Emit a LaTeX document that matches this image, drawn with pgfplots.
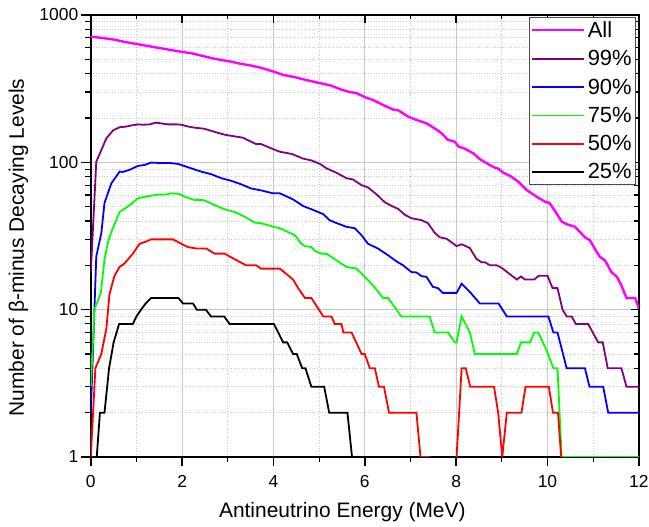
\documentclass[border=0pt]{standalone}
\usepackage{fontspec}
\setmainfont{Liberation Sans}
\usepackage{pgfplots}
\pgfplotsset{compat=1.18}
\definecolor{cAll}{RGB}{255,0,255}
\definecolor{c99}{RGB}{128,0,128}
\definecolor{c90}{RGB}{0,0,255}
\definecolor{c75}{RGB}{0,255,0}
\definecolor{c50}{RGB}{255,0,0}
\definecolor{c25}{RGB}{0,0,0}
\definecolor{gridc}{RGB}{200,200,200}
\pgfplotsset{
  common/.style={
    scale only axis, width=548bp, height=442bp,
    xmin=0, xmax=12, ymin=1, ymax=1000,
    axis line style={line width=1.6bp, black},
    xtick={0,2,...,12}, minor xtick={1,3,...,11},
    ytick={1,10,100,1000},
    major tick length=0pt, minor tick length=0pt, tick style={draw=none},
  },
}
\begin{document}
\begin{tikzpicture}
% grid
\begin{axis}[ymode=log, common, xticklabels={}, yticklabels={},
  axis line style={draw=none},
  grid=both,
  major grid style={line width=0.9bp, gridc},
  minor grid style={line width=0.7bp, gridc, dotted}]
\end{axis}
% labels
\begin{axis}[ymode=log, common, tick align=inside,
  /pgf/number format/assume math mode=true,
  ticklabel style={font=\fontsize{17.5}{20}\selectfont},
  xticklabel style={yshift=-15bp},
  yticklabel style={xshift=-9bp},
  yticklabels={1,10,100,1000},
  xlabel={Antineutrino Energy (MeV)},
  ylabel={Number of β-minus Decaying Levels},
  xlabel style={font=\fontsize{21}{24}\selectfont, at={(axis description cs:0.459,0)}, anchor=base, yshift=-60bp},
  ylabel style={font=\fontsize{21}{24}\selectfont, at={(axis description cs:-0.122,0.474)}, anchor=base},
]
\end{axis}
% tick marks: bottom/left outward, top/right inward
\begin{scope}[x=1bp, y=1bp, black]
\foreach \i in {0,...,6} {
  \draw[line width=1.4bp] ({\i*91.3333},0) -- ++(0,-9);
  \draw[line width=1.4bp] ({\i*91.3333},442) -- ++(0,-8);
}
\foreach \i in {0,...,5} {
  \draw[line width=1.1bp] ({\i*91.3333+45.6667},0) -- ++(0,-5);
  \draw[line width=1.1bp] ({\i*91.3333+45.6667},442) -- ++(0,-4.5);
}
\foreach \d in {0,1,2,3} {
  \draw[line width=1.4bp] (0,{\d*147.3333}) -- ++(-10,0);
  \draw[line width=1.4bp] (548,{\d*147.3333}) -- ++(-8,0);
}
\foreach \d in {0,1,2} {
  \foreach \m in {44.35,70.30,88.70,102.98,114.65,124.51,133.06,140.59} {
    \draw[line width=1.1bp] (0,{\d*147.3333+\m}) -- ++(-6,0);
    \draw[line width=1.1bp] (548,{\d*147.3333+\m}) -- ++(-4.5,0);
  }
}
\end{scope}
% data and legend
\begin{axis}[ymode=log, common, xticklabels={}, yticklabels={},
  legend style={at={(axis description cs:0.995,0.995)}, anchor=north east,
    draw=gray!60!black, line width=0.8bp, fill=white,
    font=\fontsize{22}{26}\selectfont, row sep=6.5bp, inner sep=1.5bp,
    nodes={inner sep=2.5bp}},
  legend cell align=left,
  legend image code/.code={\draw[#1] (0bp,0bp) -- (52bp,0bp);},
]
\addplot[cAll, line width=2.4bp] coordinates {
(0,712) (0.23,700) (0.52,680) (0.74,657) (1.0,636) (1.25,616) (1.54,594) (1.76,578) (1.98,563) (2.20,550) (2.42,530) (2.64,510) (2.86,495) (3.07,482) (3.29,466) (3.51,454) (3.73,438) (3.99,414) (4.21,392) (4.43,381) (4.65,366) (4.87,353) (5.09,341) (5.27,331) (5.49,311) (5.67,300) (5.82,295) (6.00,277) (6.18,265) (6.40,245) (6.62,228) (6.73,226) (6.95,204) (7.13,194) (7.35,184) (7.53,170) (7.68,158) (7.82,142) (7.97,138) (8.05,128) (8.16,125) (8.38,115) (8.52,105) (8.67,98.6) (8.82,92.6) (8.93,90.5) (9.03,85) (9.18,81) (9.36,74) (9.54,65) (9.76,58.5) (9.95,54) (10.05,52.8) (10.2,45) (10.31,39.6) (10.42,38) (10.6,36.6) (10.75,32.7) (10.82,31) (10.93,29.6) (11.08,24.6) (11.15,22.8) (11.26,21.6) (11.40,18) (11.52,16.7) (11.62,14.6) (11.73,12) (11.92,12) (12.0,10.2)
};
\addlegendentry{All}
\addplot[c99, line width=1.8bp] coordinates {
(0,18) (0.12,101) (0.23,121) (0.34,145.5) (0.49,165) (0.63,173) (0.78,175) (0.89,178) (1.03,181) (1.14,180) (1.29,181) (1.43,186) (1.58,183) (1.69,181) (1.87,181) (1.98,180) (2.13,175) (2.27,172) (2.49,169) (2.71,161) (2.93,154) (3.15,150) (3.33,147) (3.51,138) (3.62,133) (3.73,133) (3.99,123) (4.14,118) (4.40,114) (4.65,106) (4.83,103) (5.02,97.5) (5.16,91) (5.38,85) (5.60,78) (5.74,76.6) (5.93,70) (6.07,67.6) (6.26,60.5) (6.44,53.5) (6.62,50) (6.73,48.3) (6.88,44) (7.02,41.8) (7.24,40.5) (7.38,38.7) (7.53,33.3) (7.64,31) (7.79,30.3) (7.97,27.6) (8.01,27) (8.12,27.8) (8.30,26.2) (8.45,22) (8.56,21) (8.63,21) (8.74,20) (8.89,20) (9.00,19.2) (9.33,16) (9.42,16.8) (9.51,16) (9.71,16) (9.81,17) (10.0,17) (10.11,14) (10.22,14) (10.33,10) (10.42,9) (10.53,9) (10.62,8) (10.89,8) (11.11,6) (11.21,6) (11.32,4) (11.62,4) (11.73,3) (12,3)
};
\addlegendentry{99\%}
\addplot[c90, line width=1.8bp] coordinates {
(0,2) (0.12,23) (0.23,33) (0.30,53) (0.45,72) (0.63,86.5) (0.70,86) (0.85,89) (1.03,94.5) (1.18,96) (1.32,99.6) (1.51,99) (1.73,99) (1.91,97.5) (2.02,95) (2.20,91) (2.42,86.5) (2.64,83) (2.86,78) (3.07,75) (3.29,71) (3.51,66.5) (3.73,64.5) (3.99,61.6) (4.14,61.6) (4.43,56) (4.65,50.5) (4.87,47.5) (5.09,44.5) (5.23,40.5) (5.38,38.7) (5.60,36.5) (5.78,35.7) (5.93,32) (6.07,28) (6.29,26) (6.51,23.4) (6.69,21.3) (6.84,20) (7.02,18) (7.13,17.9) (7.24,16.9) (7.35,16.7) (7.49,14.3) (7.60,14) (7.71,13) (8.01,13) (8.12,15) (8.30,13.2) (8.52,11) (8.93,11) (9.11,9) (10.02,9) (10.13,7) (10.22,7) (10.42,4) (10.82,4) (10.92,3) (11.22,3) (11.33,2) (12,2)
};
\addlegendentry{90\%}
\addplot[c75, line width=1.8bp] coordinates {
(0,3) (0.08,10) (0.22,13) (0.30,22) (0.38,29) (0.45,33.7) (0.63,46) (0.81,50) (1.03,57) (1.21,58.5) (1.47,60.5) (1.65,60.5) (1.76,61.6) (1.94,61) (2.05,58.5) (2.27,55.5) (2.46,55.5) (2.71,51.4) (2.93,48) (3.15,46) (3.37,42.7) (3.59,39) (3.73,38.6) (3.99,36.6) (4.14,35.7) (4.32,33.6) (4.47,32) (4.61,28) (4.69,27) (4.83,26.6) (4.91,25) (5.05,24) (5.16,24) (5.60,19.5) (5.82,19) (6.0,16.7) (6.18,14.6) (6.40,12) (6.51,12) (6.80,9) (7.42,9) (7.53,7) (7.82,7) (7.97,6) (8.01,6) (8.12,9) (8.30,7) (8.41,5) (9.33,5) (9.42,6) (9.62,6) (9.71,7) (9.80,7) (9.98,5.3) (10.13,4) (10.22,4) (10.31,1) (12,1)
};
\addlegendentry{75\%}
\addplot[c50, line width=1.8bp] coordinates {
(0,1) (0.10,4) (0.23,5) (0.34,7.4) (0.41,12.8) (0.52,17) (0.63,19.5) (0.74,20.6) (0.92,24) (1.07,28) (1.21,29) (1.32,30) (1.80,30) (2.02,27.6) (2.13,26.6) (2.31,26) (2.53,26) (2.71,24) (2.93,24) (3.15,22) (3.40,20) (3.62,20) (3.73,19) (4.14,19) (4.43,16) (4.54,14) (4.69,12) (4.83,12) (5.09,9) (5.27,9) (5.34,8) (5.49,8) (5.53,7) (5.71,7) (5.93,5) (6.0,5) (6.11,4) (6.22,4) (6.31,3) (6.42,3) (6.53,2) (7.13,2) (7.22,1) (7.43,1)
};
\addlegendentry{50\%}
\addplot[c50, line width=1.8bp, forget plot] coordinates {
(8.01,1) (8.12,4) (8.21,4) (8.31,3) (8.83,3) (8.92,2) (9.01,1) (9.11,2) (9.43,2) (9.52,3) (10.03,3) (10.12,2) (10.23,2) (10.30,1)
};
\addplot[c25, line width=1.8bp] coordinates {
(0.13,1) (0.2,2) (0.3,2) (0.4,4) (0.5,6) (0.62,8) (0.92,8) (1.0,9) (1.1,10) (1.2,11) (1.32,12) (1.92,12) (2.02,11) (2.24,11) (2.32,10) (2.52,10) (2.63,9) (2.92,9) (3.04,8) (4.01,8) (4.21,6) (4.30,6) (4.43,5) (4.51,5) (4.63,4) (4.70,4) (4.83,3) (5.11,3) (5.22,2) (5.62,2) (5.72,1)
};
\addlegendentry{25\%}
\end{axis}
\pgfresetboundingbox
\useasboundingbox (-90.8bp,-70bp) rectangle (558.2bp,457bp);
\end{tikzpicture}
\end{document}
